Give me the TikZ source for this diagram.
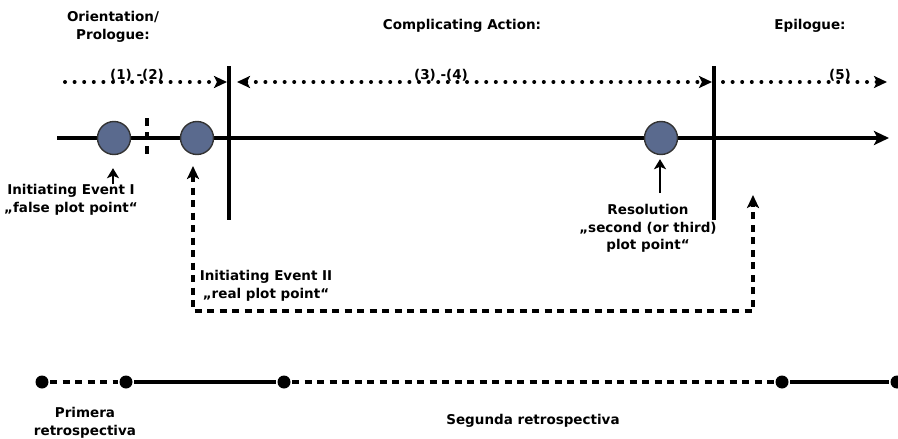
\documentclass[tikz,border=0pt]{standalone}
\usepackage{fontspec}
\setmainfont{DejaVu Sans}
\usetikzlibrary{arrows.meta}
\definecolor{eventblue}{RGB}{90,106,142}

\begin{document}
\begin{tikzpicture}[x=1pt, y=-1pt, line width=3.2pt,
    font=\fontsize{13.5}{17.5}\selectfont\bfseries]
\tikzstyle{event}=[circle, draw=black!80, line width=1.4pt, fill=eventblue, minimum size=33pt, inner sep=0pt]
\tikzstyle{stop}=[circle, fill=black, minimum size=13pt, inner sep=0pt]
\tikzstyle{dotline}=[line cap=round, dash pattern=on 0pt off 9.6pt, line width=4pt]
\tikzstyle{dashline}=[dash pattern=on 7pt off 5.5pt, line width=3.3pt]
\tikzstyle{tip}=[-{Stealth[length=13pt, width=12pt, inset=3pt]}]
\tikzstyle{shorttip}=[-{Stealth[length=10pt, width=12pt, inset=2.5pt]}, line width=2.7pt]
\tikzstyle{tipboth}=[{Stealth[length=13pt, width=12pt, inset=3pt]}-{Stealth[length=13pt, width=12pt, inset=3pt]}]
\tikzstyle{txt}=[align=center, inner sep=0pt, anchor=north]

\useasboundingbox (0,0) rectangle (898,439);

% headings
\node[txt] (orient) at (113,10) {Orientation/\\Prologue:};
\node[txt] (compl) at (462,18) {Complicating Action:};
\node[txt] (epil) at (810,18) {Epilogue:};

% phases
\coordinate (ph1a) at (65,82);
\coordinate (ph1b) at (227,82);
\coordinate (ph2a) at (237,82);
\coordinate (ph2b) at (712,82);
\coordinate (ph3a) at (723,82);
\coordinate (ph3b) at (887,82);
\draw[dotline, tip] (ph1a) -- (ph1b);
\draw[dotline, tipboth] (ph2a) -- (ph2b);
\draw[dotline, tip] (ph3a) -- (ph3b);
\node[txt] (n12) at (137,68) {(1) -(2)};
\node[txt] (n34) at (441,68) {(3) -(4)};
\node[txt] (n5) at (840,68) {(5)};

% time line
\coordinate (tstart) at (57,138);
\coordinate (tend) at (889,138);
\draw[-{Stealth[length=15pt, width=14pt, inset=3.5pt]}] (tstart) -- (tend);
\coordinate (bar1top) at (229,66);
\coordinate (bar1bot) at (229,220);
\coordinate (bar2top) at (714,66);
\coordinate (bar2bot) at (714,220);
\draw (bar1top) -- (bar1bot);
\draw (bar2top) -- (bar2bot);
\coordinate (ticktop) at (147,118);
\coordinate (tickbot) at (147,154);
\draw[dashline, dash pattern=on 8pt off 6pt] (ticktop) -- (tickbot);
\node[event] (ie1) at (114,138) {};
\node[event] (ie2) at (197,138) {};
\node[event] (res) at (661,138) {};

% events
\node[txt] (ie1txt) at (71,183) {Initiating Event I\\„false plot point“};
\coordinate (ie1arr) at (113,184);
\draw[shorttip, shorten >=13pt] (ie1arr) -- (ie1.south -| ie1arr);
\node[txt] (restxt) at (648,203) {Resolution\\„second (or third)\\plot point“};
\coordinate (resarr) at (660,193);
\draw[shorttip, shorten >=4pt] (resarr) -- (res.south -| resarr);
\node[txt] (ie2txt) at (266,269) {Initiating Event II\\„real plot point“};

% return path
\coordinate (ie2arr) at (193,166);
\coordinate (retbase) at (473,311);
\coordinate (epiarr) at (753,195);
\draw[dashline, tipboth] (ie2arr) |- (retbase) -| (epiarr);

% flashbacks
\node[stop] (p1) at (42,382) {};
\node[stop] (p2) at (126,382) {};
\node[stop] (p3) at (284,382) {};
\node[stop] (p4) at (782,382) {};
\node[stop] (p5) at (897,382) {};
\draw[dashline] (p1) -- (p2);
\draw (p2) -- (p3);
\draw[dashline] (p3) -- (p4);
\draw (p4) -- (p5);
\node[txt] (prim) at (85,406) {Primera\\retrospectiva};
\node[txt] (segu) at (533,413) {Segunda retrospectiva};
\end{tikzpicture}
\end{document}
